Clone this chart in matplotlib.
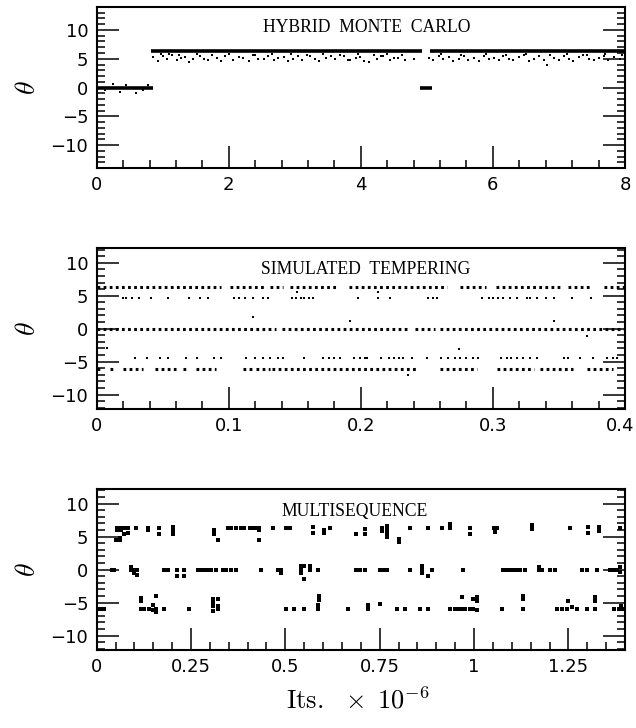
import matplotlib
matplotlib.use("Agg")
import matplotlib.pyplot as plt
from matplotlib.ticker import MultipleLocator
from matplotlib.transforms import ScaledTranslation

plt.rcParams["mathtext.fontset"] = "cm"

# ---- Hybrid Monte Carlo: dense runs (start, end, level) + spread dots
hmc_run_x0 = [0.0, 0.82, 4.90, 5.05]
hmc_run_x1 = [0.86, 4.92, 5.08, 8.0]
hmc_run_lev = [0.0, 6.3, 0.0, 6.3]
hmc_spread_x = [0.86, 0.93, 1.00, 1.06, 1.14, 1.21, 1.28, 1.34, 1.40, 1.46, 1.57, 1.63, 1.69,
                1.82, 1.88, 1.94, 2.07, 2.15, 2.22, 2.30, 2.37, 2.45, 2.53, 2.60, 2.68, 2.75,
                2.83, 2.90, 2.98, 3.05, 3.11, 3.23, 3.30, 3.36, 3.48, 3.55, 3.61, 3.74, 3.80,
                3.84, 3.92, 3.99, 4.05, 4.12, 4.24, 4.30, 4.34, 4.44, 4.50, 4.57, 4.67, 4.80,
                5.03, 5.10, 5.18, 5.25, 5.33, 5.40, 5.48, 5.56, 5.63, 5.71, 5.79, 5.86, 5.94,
                6.01, 6.09, 6.16, 6.24, 6.31, 6.39, 6.47, 6.55, 6.62, 6.70, 6.77, 6.82, 6.92,
                7.00, 7.07, 7.15, 7.22, 7.30, 7.37, 7.45, 7.53, 7.60, 7.68, 7.75, 7.83, 7.92,
                0.97, 1.10, 1.25, 1.52, 1.75, 2.00, 2.40, 2.65, 2.95, 3.18, 3.42, 3.68, 3.96,
                4.20, 4.40, 4.62, 5.22, 5.52, 5.90, 6.20, 6.50, 6.86, 7.12, 7.42, 7.70, 7.96]
hmc_spread_y = [5.3, 4.6, 5.5, 5.0, 5.6, 4.8, 5.2, 5.3, 4.5, 4.9, 5.5, 5.0, 4.7,
                5.2, 4.6, 5.5, 4.8, 5.3, 5.1, 4.6, 5.6, 5.0, 4.9, 5.4, 4.7, 5.2,
                5.3, 4.6, 5.0, 5.5, 4.8, 5.4, 4.9, 4.6, 5.2, 5.5, 4.9, 5.5, 4.7,
                4.8, 5.2, 5.3, 4.6, 4.5, 5.0, 5.4, 5.5, 4.7, 5.1, 5.2, 4.8, 5.0,
                5.2, 4.7, 5.4, 4.9, 5.3, 4.6, 5.0, 5.5, 4.8, 5.2, 4.6, 5.4, 4.9,
                5.1, 4.7, 5.5, 5.0, 4.8, 5.3, 5.6, 4.6, 5.0, 5.4, 4.8, 3.9, 5.2,
                4.7, 5.5, 5.0, 4.6, 5.3, 5.6, 4.9, 4.7, 5.2, 5.5, 4.8, 5.3, 4.9,
                5.8, 5.8, 5.7, 5.8, 5.7, 5.8, 5.7, 5.8, 5.8, 5.7, 5.8, 5.7, 5.8,
                5.7, 5.8, 5.7, 5.8, 5.7, 5.8, 5.7, 5.8, 5.7, 5.8, 5.7, 5.8, 5.7]
hmc_zero_x = [0.12, 0.25, 0.36, 0.45, 0.60, 0.70, 0.78]
hmc_zero_y = [-0.4, 0.6, -0.7, 0.4, -0.9, -0.5, 0.5]

# ---- Simulated tempering: dotted runs per level + sparse dots
st_top_x0 = [0.0, 0.101, 0.131, 0.146, 0.191, 0.275, 0.302, 0.357, 0.384]
st_top_x1 = [0.094, 0.128, 0.141, 0.181, 0.265, 0.295, 0.351, 0.374, 0.400]
st_zero_x0 = [0.0, 0.140, 0.241, 0.260]
st_zero_x1 = [0.136, 0.237, 0.256, 0.400]
st_bot_x0 = [0.0, 0.010, 0.020, 0.044, 0.065, 0.075, 0.111, 0.121, 0.133, 0.260, 0.303, 0.336, 0.371]
st_bot_x1 = [0.005, 0.015, 0.035, 0.060, 0.070, 0.090, 0.118, 0.131, 0.242, 0.288, 0.331, 0.361, 0.391]
st_levels = [6.3, 0.0, -6.1]
st_hi_dots = [0.020, 0.022, 0.027, 0.032, 0.041, 0.054, 0.070, 0.078, 0.084, 0.104, 0.108,
              0.112, 0.118, 0.126, 0.130, 0.148, 0.151, 0.155, 0.157, 0.161, 0.164, 0.198,
              0.213, 0.222, 0.251, 0.255, 0.258, 0.292, 0.297, 0.300, 0.304, 0.308, 0.313,
              0.318, 0.326, 0.328, 0.333, 0.340, 0.346, 0.360, 0.374]
st_lo_dots = [0.029, 0.038, 0.048, 0.054, 0.068, 0.076, 0.089, 0.094, 0.113, 0.120, 0.126,
              0.131, 0.137, 0.141, 0.157, 0.171, 0.176, 0.180, 0.184, 0.195, 0.199, 0.203,
              0.205, 0.215, 0.221, 0.225, 0.229, 0.232, 0.239, 0.250, 0.261, 0.266, 0.271,
              0.275, 0.280, 0.285, 0.289, 0.306, 0.311, 0.314, 0.318, 0.323, 0.328, 0.333,
              0.354, 0.357, 0.366, 0.376, 0.386, 0.391, 0.394]
st_hi_level = 4.6
st_lo_level = -4.5
st_out_x = [0.118, 0.192, 0.008, 0.274, 0.346, 0.236, 0.371, 0.152, 0.213]
st_out_y = [1.7, 1.2, -3.0, -3.1, 1.2, -7.1, -1.1, 5.6, 5.5]

# ---- Multisequence: sparse clusters
ms_up_x = [0.055, 0.055, 0.064, 0.064, 0.073, 0.082, 0.104, 0.135, 0.135, 0.166, 0.166,
           0.201, 0.201, 0.201, 0.312, 0.312, 0.321, 0.347, 0.356, 0.369, 0.382, 0.391,
           0.405, 0.413, 0.422, 0.431, 0.431, 0.431, 0.466, 0.502, 0.511, 0.572, 0.572,
           0.603, 0.603, 0.617, 0.687, 0.050, 0.057, 0.063, 0.063, 0.073, 0.082,
           0.711, 0.711, 0.755, 0.755, 0.769, 0.769, 0.769, 0.769, 0.769, 0.800, 0.800,
           0.831, 0.879, 0.914, 0.937, 0.937, 0.990, 0.990, 1.052, 1.060, 1.056, 1.153,
           1.153, 1.255, 1.303, 1.303, 1.330, 1.330, 1.387]
ms_up_y = [6.3, 6.0, 6.3, 6.0, 6.3, 6.3, 6.3, 6.3, 6.0, 6.3, 5.4,
           6.4, 6.0, 5.4, 6.0, 5.4, 4.4, 6.3, 6.3, 6.3, 6.3, 6.3,
           6.3, 6.3, 6.3, 6.3, 6.0, 4.4, 6.3, 6.3, 6.3, 6.5, 5.5,
           6.0, 5.6, 6.3, 5.4, 4.4, 4.4, 4.4, 4.8, 5.4, 5.6,
           6.2, 5.4, 6.3, 5.9, 6.6, 6.2, 5.8, 5.4, 5.0, 4.6, 4.2,
           6.3, 6.3, 6.3, 6.9, 6.3, 6.3, 5.4, 6.3, 6.3, 5.7, 6.7,
           6.2, 6.3, 6.4, 5.6, 6.5, 5.8, 6.3]
ms_zero_x = [0.041, 0.047, 0.091, 0.091, 0.100, 0.100, 0.108, 0.108, 0.179, 0.188, 0.214,
             0.214, 0.232, 0.232, 0.268, 0.276, 0.285, 0.294, 0.303, 0.316, 0.334, 0.343,
             0.356, 0.369, 0.435, 0.480, 0.488, 0.488, 0.541, 0.541, 0.541, 0.550, 0.564,
             0.564, 0.550, 0.586, 0.687, 0.698, 0.711, 0.751, 0.760, 0.769, 0.831, 0.861,
             0.861, 0.861, 0.879, 0.888, 0.972, 1.078, 1.087, 1.096, 1.105, 1.113, 1.122,
             1.135, 1.171, 1.171, 1.180, 1.202, 1.215, 1.286, 1.299, 1.325, 1.361, 1.370,
             1.380, 1.387, 1.387]
ms_zero_y = [0.0, 0.0, 0.4, 0.0, 0.0, -0.5, 0.0, -0.9, 0.0, 0.0, 0.0,
             -1.0, 0.0, -1.0, 0.0, 0.0, 0.0, 0.0, 0.0, 0.0, 0.0, 0.0,
             0.0, 0.0, 0.0, 0.0, 0.0, -0.5, 0.6, 0.0, -0.6, 0.6, 0.6,
             0.0, -1.4, 0.0, 0.0, 0.0, 0.0, 0.0, 0.0, 0.0, 0.0, 0.6,
             0.0, -0.6, -1.0, 0.0, 0.0, 0.0, 0.0, 0.0, 0.0, 0.0, 0.0,
             0.0, 0.4, 0.0, 0.0, 0.0, 0.0, 0.0, 0.0, 0.0, 0.0, 0.0,
             0.0, 0.4, -0.4]
ms_low_x = [0.117, 0.117, 0.157, 0.307, 0.307, 0.321, 0.590, 0.590, 0.720, 0.751, 0.968,
            0.998, 1.007, 1.007, 1.131, 1.131, 1.250, 1.321, 1.321, 1.390,
            0.007, 0.014, 0.020, 0.117, 0.126, 0.139, 0.148, 0.148, 0.157, 0.157, 0.179,
            0.245, 0.307, 0.307, 0.321, 0.321, 0.502, 0.524, 0.550, 0.586, 0.586, 0.665,
            0.720, 0.795, 0.817, 0.857, 0.879, 0.937, 0.950, 0.959, 0.968, 0.976, 0.990,
            0.998, 1.007, 1.074, 1.131, 1.219, 1.233, 1.246, 1.259, 1.272, 1.299, 1.321,
            1.370, 1.383, 1.396]
ms_low_y = [-4.3, -4.8, -4.0, -4.4, -5.0, -4.5, -4.0, -4.6, -5.4, -5.2, -4.1,
            -4.4, -4.1, -4.8, -4.0, -4.5, -4.8, -4.2, -4.8, -5.5,
            -6.0, -6.0, -6.0, -6.0, -6.0, -6.0, -6.2, -5.4, -6.0, -6.5, -6.0,
            -6.0, -5.6, -6.3, -6.0, -5.6, -6.0, -6.0, -6.0, -5.4, -6.0, -6.0,
            -6.0, -6.0, -6.0, -6.0, -6.0, -6.0, -6.0, -6.0, -6.0, -6.0, -6.0,
            -6.0, -6.2, -6.0, -6.0, -6.0, -6.0, -6.0, -5.7, -6.0, -6.0, -6.0,
            -6.0, -6.0, -6.0]

titles = ["HYBRID  MONTE  CARLO", "SIMULATED  TEMPERING", "MULTISEQUENCE"]
title_pos = [(0.512, 10.4), (0.509, 9.0), (0.488, 8.8)]
xlims = [8.0, 0.4, 1.4]
ylims = [14.0, 12.2, 12.2]
x_major = [2.0, 0.1, 0.25]
x_minor = [0.4, 0.02, 0.05]
x_ticklabels = [["0", "2", "4", "6", "8"],
                ["0", "0.1", "0.2", "0.3", "0.4"],
                ["0", "0.25", "0.5", "0.75", "1", "1.25"]]

fig = plt.figure(figsize=(6.36, 7.28), dpi=100)
rects = [[0.152, 0.7692, 0.8307, 0.2212],
         [0.152, 0.4382, 0.8307, 0.2207],
         [0.152, 0.1071, 0.8307, 0.2212]]
axes = [fig.add_axes(r) for r in rects]

ink = "black"
dot = dict(s=3.0, marker="s", color=ink, linewidths=0)
ms_dot = dict(s=6.5, marker="s", color=ink, linewidths=0)

# panel 1
ax = axes[0]
ax.hlines(hmc_run_lev, hmc_run_x0, hmc_run_x1, colors=ink, lw=2.6)
ax.scatter(hmc_spread_x, hmc_spread_y, **dot)
ax.scatter(hmc_zero_x, hmc_zero_y, **dot)

# panel 2
ax = axes[1]
for x0s, x1s, lev in zip([st_top_x0, st_zero_x0, st_bot_x0],
                         [st_top_x1, st_zero_x1, st_bot_x1], st_levels):
    ax.hlines([lev] * len(x0s), x0s, x1s, colors=ink, lw=2.2,
              linestyles=[(0, (0.9, 1.1))])
ax.scatter(st_hi_dots, [st_hi_level] * len(st_hi_dots), **dot)
ax.scatter(st_lo_dots, [st_lo_level] * len(st_lo_dots), **dot)
ax.scatter(st_out_x, st_out_y, **dot)

# panel 3
ax = axes[2]
ax.scatter(ms_up_x, ms_up_y, **ms_dot)
ax.scatter(ms_zero_x, ms_zero_y, **ms_dot)
ax.scatter(ms_low_x, ms_low_y, **ms_dot)

for i, ax in enumerate(axes):
    ax.set_xlim(0, xlims[i])
    ax.set_ylim(-ylims[i], ylims[i])
    ax.xaxis.set_major_locator(MultipleLocator(x_major[i]))
    ax.xaxis.set_minor_locator(MultipleLocator(x_minor[i]))
    ax.set_xticks([k * x_major[i] for k in range(len(x_ticklabels[i]))])
    ax.set_xticklabels(x_ticklabels[i])
    ax.yaxis.set_major_locator(MultipleLocator(5))
    ax.yaxis.set_minor_locator(MultipleLocator(1))
    ax.set_yticks([10, 5, 0, -5, -10])
    ax.set_yticklabels(["10", "5", "0", "\u22125", "\u221210"])
    ax.tick_params(which="both", direction="in", top=False, right=True,
                   width=1.1, labelsize=13, pad=6)
    ax.tick_params(which="major", length=16)
    ax.tick_params(which="minor", length=5.5)
    for lab in ax.get_xticklabels() + ax.get_yticklabels():
        lab.set_family("DejaVu Sans")
    for sp in ax.spines.values():
        sp.set_linewidth(1.5)
    ax.text(title_pos[i][0], title_pos[i][1], titles[i], transform=ax.get_yaxis_transform(),
            ha="center", va="center", family="Liberation Serif", fontsize=12.7)
    ax.set_ylabel(r"$\theta$", fontsize=20, labelpad=7)

# keep the last label of the middle panel inside the canvas
last = axes[1].get_xticklabels()[-1]
last.set_transform(last.get_transform() + ScaledTranslation(-5 / 100, 0, fig.dpi_scale_trans))

fig.text(0.563, 0.018, r"$\mathrm{Its.}\;\;\times\;10^{-6}$", ha="center", va="bottom",
         fontsize=19)

fig.savefig("out.png", dpi=100)
